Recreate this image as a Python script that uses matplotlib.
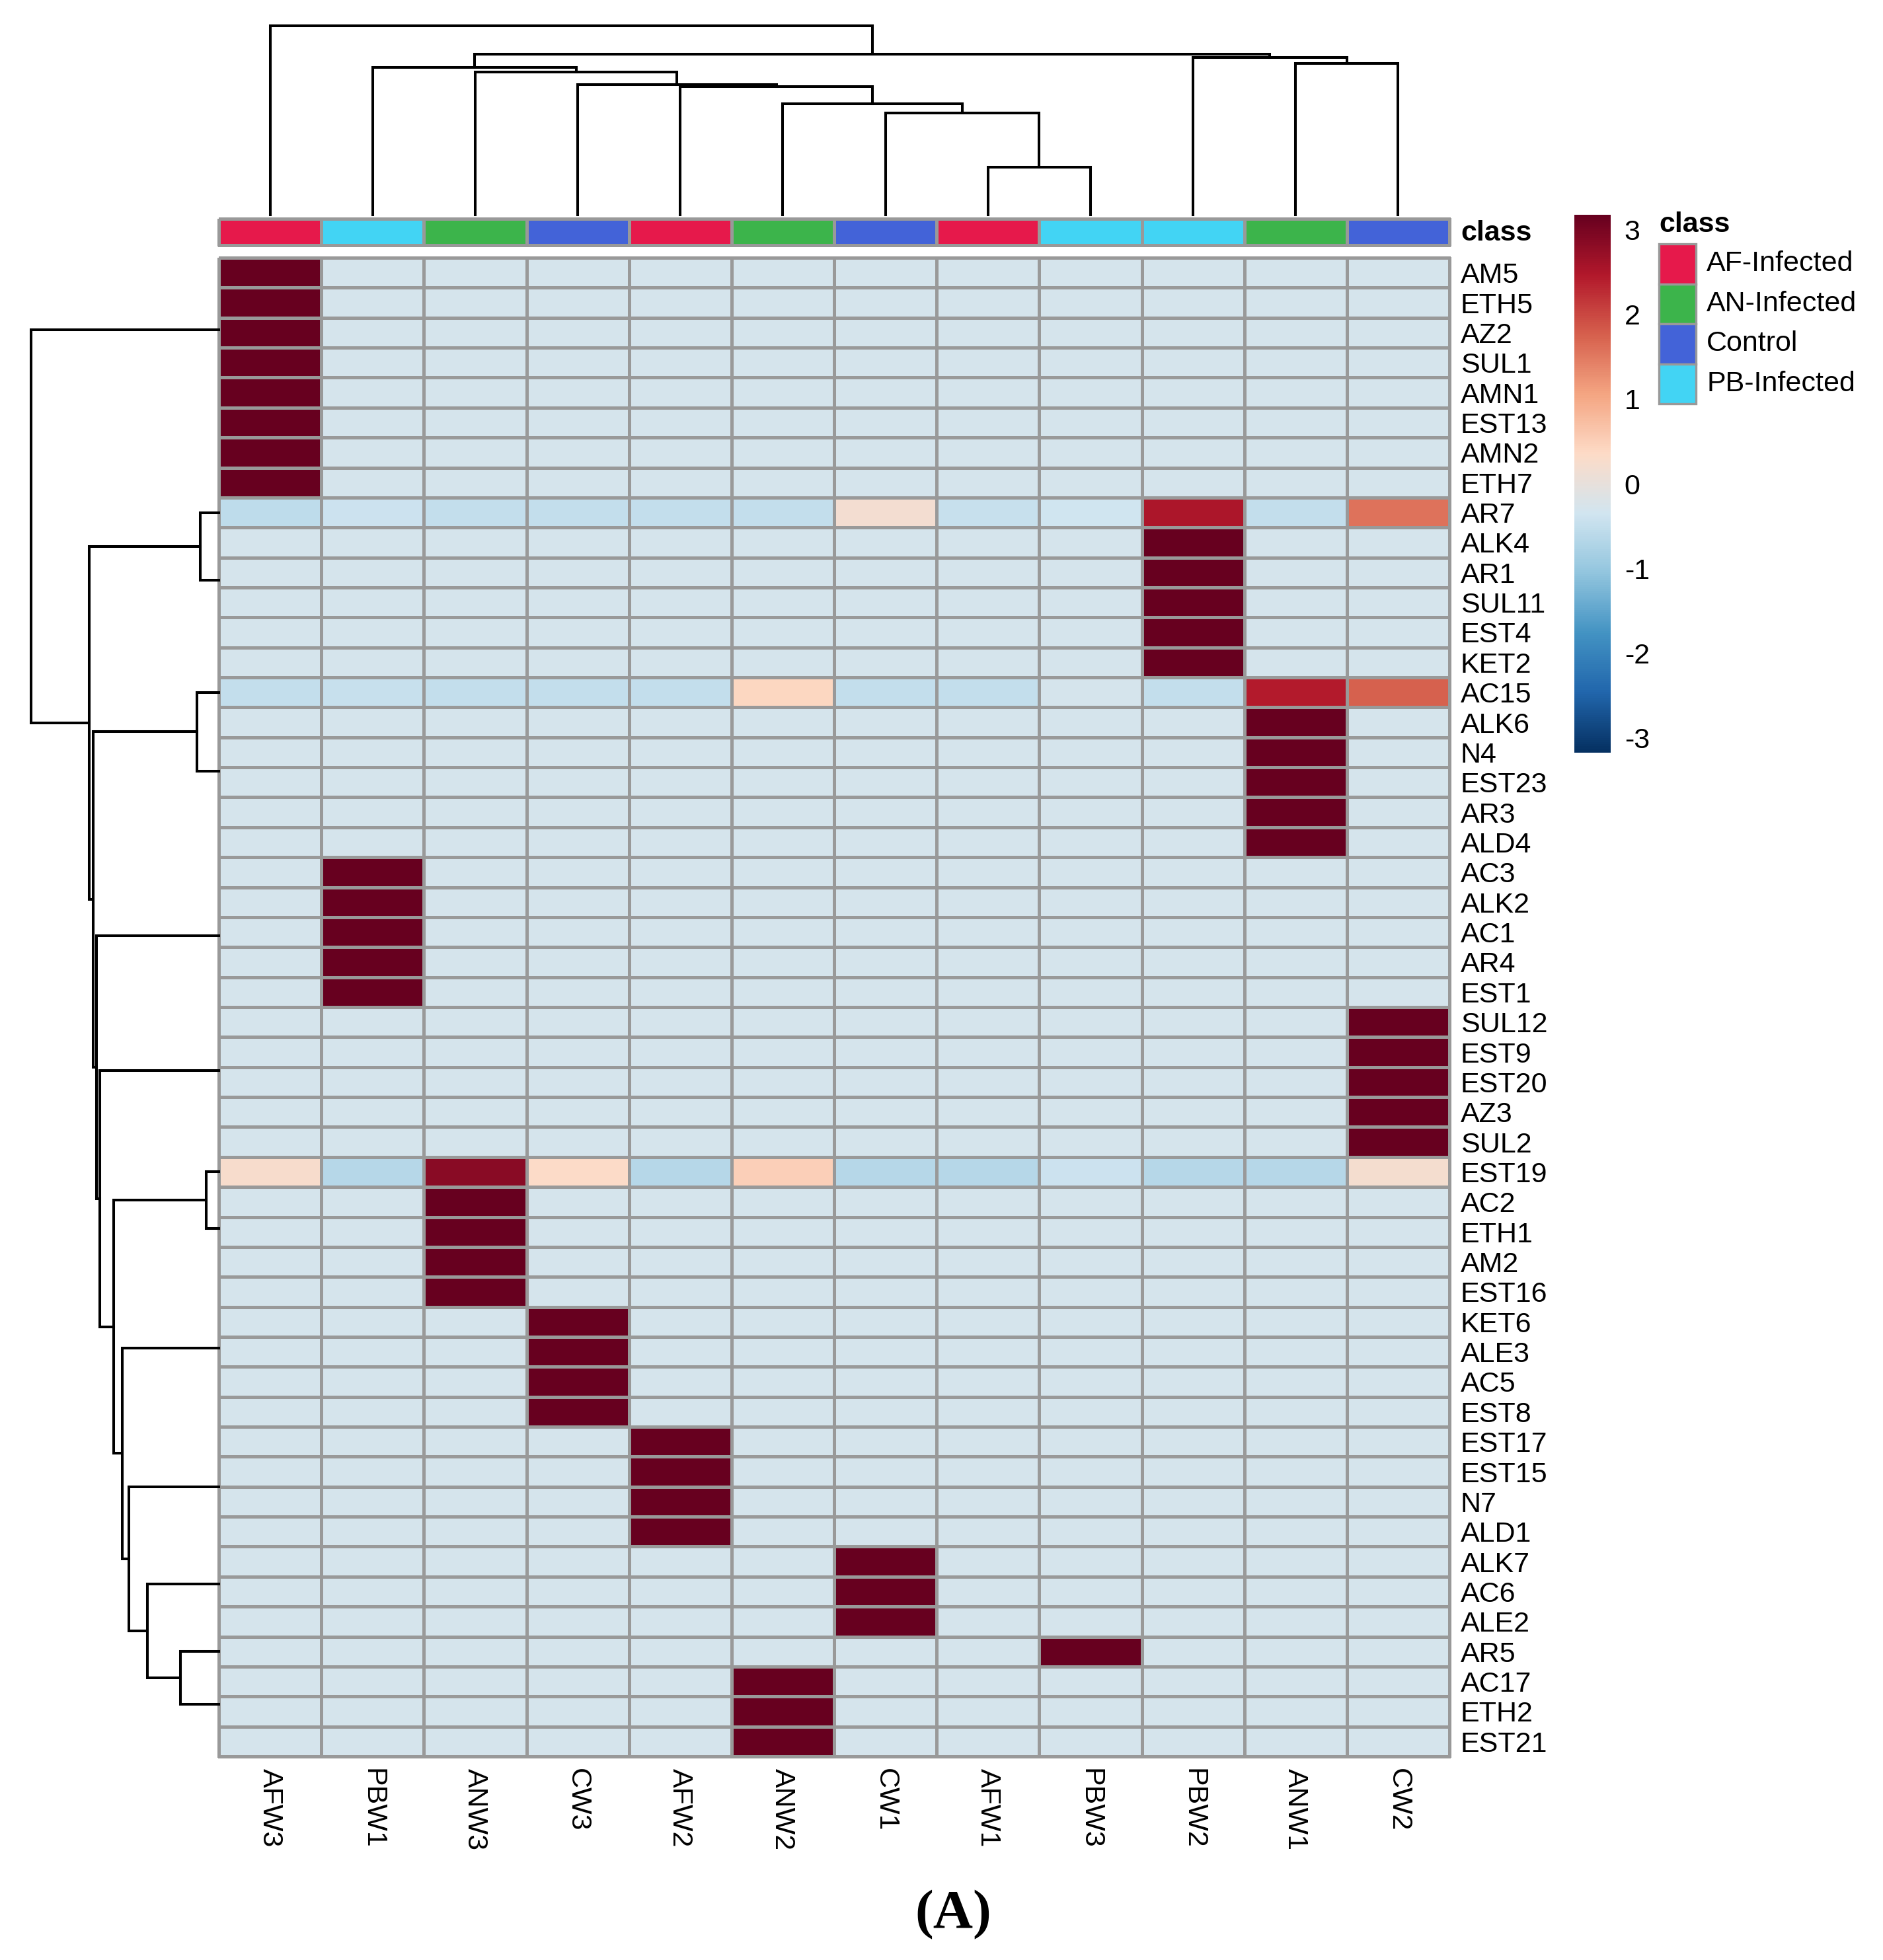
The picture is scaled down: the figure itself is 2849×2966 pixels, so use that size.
import matplotlib
matplotlib.use('Agg')
import matplotlib.pyplot as plt
from matplotlib.colors import LinearSegmentedColormap, ListedColormap, Normalize
from matplotlib.cm import ScalarMappable
from matplotlib.patches import Rectangle
import numpy as np

plt.rcParams['font.family'] = ['Liberation Sans', 'DejaVu Sans']

# ---------------- data ----------------
col_labels = ['AFW3', 'PBW1', 'ANW3', 'CW3', 'AFW2', 'ANW2', 'CW1', 'AFW1', 'PBW3', 'PBW2', 'ANW1', 'CW2']
col_classes = ['AF-Infected', 'PB-Infected', 'AN-Infected', 'Control', 'AF-Infected', 'AN-Infected',
               'Control', 'AF-Infected', 'PB-Infected', 'PB-Infected', 'AN-Infected', 'Control']
class_names = ['AF-Infected', 'AN-Infected', 'Control', 'PB-Infected']
class_colors = ['#e6194b', '#3cb44b', '#4363d8', '#42d4f4']

row_labels = ['AM5', 'ETH5', 'AZ2', 'SUL1', 'AMN1', 'EST13', 'AMN2', 'ETH7',
              'AR7', 'ALK4', 'AR1', 'SUL11', 'EST4', 'KET2',
              'AC15', 'ALK6', 'N4', 'EST23', 'AR3', 'ALD4',
              'AC3', 'ALK2', 'AC1', 'AR4', 'EST1',
              'SUL12', 'EST9', 'EST20', 'AZ3', 'SUL2',
              'EST19', 'AC2', 'ETH1', 'AM2', 'EST16',
              'KET6', 'ALE3', 'AC5', 'EST8',
              'EST17', 'EST15', 'N7', 'ALD1',
              'ALK7', 'AC6', 'ALE2', 'AR5', 'AC17', 'ETH2', 'EST21']

# row z-scores, columns in col_labels order
values = [
    [3.18, -0.29, -0.29, -0.29, -0.29, -0.29, -0.29, -0.29, -0.29, -0.29, -0.29, -0.29],  # AM5
    [3.18, -0.29, -0.29, -0.29, -0.29, -0.29, -0.29, -0.29, -0.29, -0.29, -0.29, -0.29],  # ETH5
    [3.18, -0.29, -0.29, -0.29, -0.29, -0.29, -0.29, -0.29, -0.29, -0.29, -0.29, -0.29],  # AZ2
    [3.18, -0.29, -0.29, -0.29, -0.29, -0.29, -0.29, -0.29, -0.29, -0.29, -0.29, -0.29],  # SUL1
    [3.18, -0.29, -0.29, -0.29, -0.29, -0.29, -0.29, -0.29, -0.29, -0.29, -0.29, -0.29],  # AMN1
    [3.18, -0.29, -0.29, -0.29, -0.29, -0.29, -0.29, -0.29, -0.29, -0.29, -0.29, -0.29],  # EST13
    [3.18, -0.29, -0.29, -0.29, -0.29, -0.29, -0.29, -0.29, -0.29, -0.29, -0.29, -0.29],  # AMN2
    [3.18, -0.29, -0.29, -0.29, -0.29, -0.29, -0.29, -0.29, -0.29, -0.29, -0.29, -0.29],  # ETH7
    [-0.55, -0.40, -0.52, -0.52, -0.52, -0.50, 0.18, -0.45, -0.37, 2.53, -0.52, 1.58],    # AR7
    [-0.29, -0.29, -0.29, -0.29, -0.29, -0.29, -0.29, -0.29, -0.29, 3.18, -0.29, -0.29],  # ALK4
    [-0.29, -0.29, -0.29, -0.29, -0.29, -0.29, -0.29, -0.29, -0.29, 3.18, -0.29, -0.29],  # AR1
    [-0.29, -0.29, -0.29, -0.29, -0.29, -0.29, -0.29, -0.29, -0.29, 3.18, -0.29, -0.29],  # SUL11
    [-0.29, -0.29, -0.29, -0.29, -0.29, -0.29, -0.29, -0.29, -0.29, 3.18, -0.29, -0.29],  # EST4
    [-0.29, -0.29, -0.29, -0.29, -0.29, -0.29, -0.29, -0.29, -0.29, 3.18, -0.29, -0.29],  # KET2
    [-0.52, -0.47, -0.52, -0.52, -0.52, 0.40, -0.52, -0.52, -0.29, -0.52, 2.45, 1.76],    # AC15
    [-0.29, -0.29, -0.29, -0.29, -0.29, -0.29, -0.29, -0.29, -0.29, -0.29, 3.18, -0.29],  # ALK6
    [-0.29, -0.29, -0.29, -0.29, -0.29, -0.29, -0.29, -0.29, -0.29, -0.29, 3.18, -0.29],  # N4
    [-0.29, -0.29, -0.29, -0.29, -0.29, -0.29, -0.29, -0.29, -0.29, -0.29, 3.18, -0.29],  # EST23
    [-0.29, -0.29, -0.29, -0.29, -0.29, -0.29, -0.29, -0.29, -0.29, -0.29, 3.18, -0.29],  # AR3
    [-0.29, -0.29, -0.29, -0.29, -0.29, -0.29, -0.29, -0.29, -0.29, -0.29, 3.18, -0.29],  # ALD4
    [-0.29, 3.18, -0.29, -0.29, -0.29, -0.29, -0.29, -0.29, -0.29, -0.29, -0.29, -0.29],  # AC3
    [-0.29, 3.18, -0.29, -0.29, -0.29, -0.29, -0.29, -0.29, -0.29, -0.29, -0.29, -0.29],  # ALK2
    [-0.29, 3.18, -0.29, -0.29, -0.29, -0.29, -0.29, -0.29, -0.29, -0.29, -0.29, -0.29],  # AC1
    [-0.29, 3.18, -0.29, -0.29, -0.29, -0.29, -0.29, -0.29, -0.29, -0.29, -0.29, -0.29],  # AR4
    [-0.29, 3.18, -0.29, -0.29, -0.29, -0.29, -0.29, -0.29, -0.29, -0.29, -0.29, -0.29],  # EST1
    [-0.29, -0.29, -0.29, -0.29, -0.29, -0.29, -0.29, -0.29, -0.29, -0.29, -0.29, 3.18],  # SUL12
    [-0.29, -0.29, -0.29, -0.29, -0.29, -0.29, -0.29, -0.29, -0.29, -0.29, -0.29, 3.18],  # EST9
    [-0.29, -0.29, -0.29, -0.29, -0.29, -0.29, -0.29, -0.29, -0.29, -0.29, -0.29, 3.18],  # EST20
    [-0.29, -0.29, -0.29, -0.29, -0.29, -0.29, -0.29, -0.29, -0.29, -0.29, -0.29, 3.18],  # AZ3
    [-0.29, -0.29, -0.29, -0.29, -0.29, -0.29, -0.29, -0.29, -0.29, -0.29, -0.29, 3.18],  # SUL2
    [0.25, -0.65, 2.85, 0.33, -0.65, 0.50, -0.65, -0.65, -0.40, -0.65, -0.65, 0.20],      # EST19
    [-0.29, -0.29, 3.18, -0.29, -0.29, -0.29, -0.29, -0.29, -0.29, -0.29, -0.29, -0.29],  # AC2
    [-0.29, -0.29, 3.18, -0.29, -0.29, -0.29, -0.29, -0.29, -0.29, -0.29, -0.29, -0.29],  # ETH1
    [-0.29, -0.29, 3.18, -0.29, -0.29, -0.29, -0.29, -0.29, -0.29, -0.29, -0.29, -0.29],  # AM2
    [-0.29, -0.29, 3.18, -0.29, -0.29, -0.29, -0.29, -0.29, -0.29, -0.29, -0.29, -0.29],  # EST16
    [-0.29, -0.29, -0.29, 3.18, -0.29, -0.29, -0.29, -0.29, -0.29, -0.29, -0.29, -0.29],  # KET6
    [-0.29, -0.29, -0.29, 3.18, -0.29, -0.29, -0.29, -0.29, -0.29, -0.29, -0.29, -0.29],  # ALE3
    [-0.29, -0.29, -0.29, 3.18, -0.29, -0.29, -0.29, -0.29, -0.29, -0.29, -0.29, -0.29],  # AC5
    [-0.29, -0.29, -0.29, 3.18, -0.29, -0.29, -0.29, -0.29, -0.29, -0.29, -0.29, -0.29],  # EST8
    [-0.29, -0.29, -0.29, -0.29, 3.18, -0.29, -0.29, -0.29, -0.29, -0.29, -0.29, -0.29],  # EST17
    [-0.29, -0.29, -0.29, -0.29, 3.18, -0.29, -0.29, -0.29, -0.29, -0.29, -0.29, -0.29],  # EST15
    [-0.29, -0.29, -0.29, -0.29, 3.18, -0.29, -0.29, -0.29, -0.29, -0.29, -0.29, -0.29],  # N7
    [-0.29, -0.29, -0.29, -0.29, 3.18, -0.29, -0.29, -0.29, -0.29, -0.29, -0.29, -0.29],  # ALD1
    [-0.29, -0.29, -0.29, -0.29, -0.29, -0.29, 3.18, -0.29, -0.29, -0.29, -0.29, -0.29],  # ALK7
    [-0.29, -0.29, -0.29, -0.29, -0.29, -0.29, 3.18, -0.29, -0.29, -0.29, -0.29, -0.29],  # AC6
    [-0.29, -0.29, -0.29, -0.29, -0.29, -0.29, 3.18, -0.29, -0.29, -0.29, -0.29, -0.29],  # ALE2
    [-0.29, -0.29, -0.29, -0.29, -0.29, -0.29, -0.29, -0.29, 3.18, -0.29, -0.29, -0.29],  # AR5
    [-0.29, -0.29, -0.29, -0.29, -0.29, 3.18, -0.29, -0.29, -0.29, -0.29, -0.29, -0.29],  # AC17
    [-0.29, -0.29, -0.29, -0.29, -0.29, 3.18, -0.29, -0.29, -0.29, -0.29, -0.29, -0.29],  # ETH2
    [-0.29, -0.29, -0.29, -0.29, -0.29, 3.18, -0.29, -0.29, -0.29, -0.29, -0.29, -0.29],  # EST21
]

# dendrogram merges (linkage style: child a, child b, height); new node id = n_leaves + k
top_links = [
    (7, 8, 72), (6, 12, 154), (5, 13, 168), (4, 14, 194), (3, 15, 197), (2, 16, 216),
    (1, 17, 223), (10, 11, 229), (9, 19, 238), (18, 20, 243), (0, 21, 286),
]
left_links = [
    (0, 1, 0), (6, 7, 0), (5, 51, 0), (3, 4, 0), (53, 52, 0), (2, 54, 0), (50, 55, 0),      # 50-56
    (10, 11, 0), (12, 13, 0), (57, 58, 0), (9, 59, 0), (8, 60, 28),                          # 57-61
    (15, 16, 0), (18, 19, 0), (17, 63, 0), (62, 64, 0), (14, 65, 33),                         # 62-66
    (21, 22, 0), (20, 67, 0), (23, 24, 0), (68, 69, 0),                                       # 67-70
    (25, 26, 0), (28, 29, 0), (27, 72, 0), (71, 73, 0),                                       # 71-74
    (33, 34, 0), (32, 75, 0), (31, 76, 0), (30, 77, 19),                                      # 75-78
    (37, 38, 0), (36, 79, 0), (35, 80, 0),                                                    # 79-81
    (39, 40, 0), (41, 42, 0), (82, 83, 0),                                                    # 82-84
    (44, 45, 0), (43, 85, 0),                                                                 # 85-86
    (48, 49, 0), (47, 87, 0),                                                                 # 87-88
    (46, 88, 58), (86, 89, 108), (84, 90, 136), (81, 91, 146), (78, 92, 159),                 # 89-93
    (74, 93, 180), (70, 94, 185), (66, 95, 190), (61, 96, 196), (56, 97, 284),                # 94-98
]

palette = ['#053061', '#2166ac', '#4393c3', '#92c5de', '#d1e5f0',
           '#fddbc7', '#f4a582', '#d6604d', '#b2182b', '#67001f']
vmin, vmax = -3.175, 3.175
cbar_ticks = [3, 2, 1, 0, -1, -2, -3]
cbar_ticklabels = ['3', '2', '1', '0', '-1', '-2', '-3']

# ---------------- layout helpers ----------------
W, H = 2849, 2966
DPI = 100
fig = plt.figure(figsize=(W / DPI, H / DPI), dpi=DPI)


def px_axes(l, t, r, b):
    return fig.add_axes([l / W, 1 - b / H, (r - l) / W, (b - t) / H])


FS = 31
GRID = '#999999'
GLW = 2.4
DLW = 2.9

nrow, ncol = len(row_labels), len(col_labels)
data = np.array(values)
cmap = LinearSegmentedColormap.from_list('rdbu10', palette, N=256)
norm = Normalize(vmin=vmin, vmax=vmax)

# heatmap
hx0, hx1, hy0, hy1 = 331, 2193, 390, 2658
ax = px_axes(hx0, hy0, hx1, hy1)
mesh = ax.pcolormesh(np.arange(ncol + 1), np.arange(nrow + 1), data, cmap=cmap, norm=norm,
                     edgecolors=GRID, linewidth=GLW)
mesh.set_clip_on(False)
ax.set_xlim(0, ncol)
ax.set_ylim(nrow, 0)
for s in ax.spines.values():
    s.set_visible(False)
ax.set_yticks(np.arange(nrow) + 0.5)
ax.set_yticklabels(row_labels, fontsize=FS)
ax.yaxis.tick_right()
ax.set_xticks(np.arange(ncol) + 0.5)
ax.set_xticklabels(col_labels, fontsize=FS, rotation=270)
ax.tick_params(axis='y', length=0, pad=12)
ax.tick_params(axis='x', length=0, pad=13)

# annotation bar
axa = px_axes(hx0, 331, hx1, 371)
cls_idx = [[class_names.index(c) for c in col_classes]]
am = axa.pcolormesh(np.arange(ncol + 1), [0, 1], np.array(cls_idx), cmap=ListedColormap(class_colors),
                    vmin=-0.5, vmax=len(class_names) - 0.5, edgecolors=GRID, linewidth=GLW)
am.set_clip_on(False)
axa.set_xlim(0, ncol)
axa.set_ylim(1, 0)
axa.axis('off')


# dendrogram drawing
def draw_tree(axd, links, n, orient):
    pos = {i: i + 0.5 for i in range(n)}
    hgt = {i: 0.0 for i in range(n)}
    for k, (a, b, h) in enumerate(links):
        pa, pb, ha, hb = pos[a], pos[b], hgt[a], hgt[b]
        if h > 0:
            p = [pa, pa, pb, pb]
            q = [ha, h, h, hb]
            if orient == 'top':
                axd.plot(p, q, color='black', lw=DLW, solid_joinstyle='miter', clip_on=False)
            else:
                axd.plot(q, p, color='black', lw=DLW, solid_joinstyle='miter', clip_on=False)
        pos[n + k] = (pa + pb) / 2
        hgt[n + k] = h


axt = px_axes(hx0, 30, hx1, 325)
draw_tree(axt, top_links, ncol, 'top')
axt.set_xlim(0, ncol)
axt.set_ylim(0, 295)
axt.axis('off')

axl = px_axes(40, hy0, 331, hy1)
draw_tree(axl, left_links, nrow, 'left')
axl.set_ylim(nrow, 0)
axl.set_xlim(291, 0)
axl.axis('off')

# colorbar
cax = px_axes(2382, 325, 2437, 1139)
cb = fig.colorbar(ScalarMappable(norm=norm, cmap=cmap), cax=cax)
cb.outline.set_visible(False)
cb.set_ticks(cbar_ticks)
cb.set_ticklabels(cbar_ticklabels)
cax.tick_params(length=0, labelsize=FS, pad=15)

# overlay for legend and panel letter
ov = fig.add_axes([0, 0, 1, 1], zorder=-1)
ov.set_xlim(0, W)
ov.set_ylim(H, 0)
ov.axis('off')
ov.text(2210, 353, 'class', fontsize=FS, fontweight='bold', ha='left', va='center')
ov.text(2510, 340, 'class', fontsize=FS, fontweight='bold', ha='left', va='center')
ph = 60.5
for i, (name, color) in enumerate(zip(class_names, class_colors)):
    top = 369 + i * ph
    ov.add_patch(Rectangle((2510, top), 56, ph, facecolor=color, edgecolor=GRID, lw=GLW))
    ov.text(2582, top + ph / 2, name, fontsize=FS, ha='left', va='center')
ov.text(1442, 2898, '(A)', fontsize=60, fontweight='bold', family='Liberation Serif',
        ha='center', va='center')

fig.savefig('out.png', dpi=DPI)
